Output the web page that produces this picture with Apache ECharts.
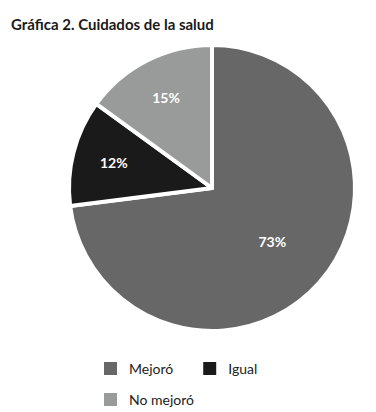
<!DOCTYPE html>
<html>
<head>
<meta charset="utf-8">
<script src="https://cdn.jsdelivr.net/npm/echarts@6/dist/echarts.min.js"></script>
<style>
  html, body { margin: 0; padding: 0; background: #ffffff; }
  #chart { width: 376px; height: 412px; }
</style>
</head>
<body>
<div id="chart"></div>
<script>
const categories = ["Mejoró", "Igual", "No mejoró"];
const values = [73, 12, 15];
const sliceColors = ["#666766", "#1b1a1a", "#999a9a"];
// how far out each label sits, as a share of the radius
const labelDepth = [0.54, 0.68, 0.68];

const FONT = "Lato, 'Open Sans', sans-serif";
const CX = 212;
const CY = 188;
const R = 143;

const chart = echarts.init(document.getElementById("chart"), null, {
  renderer: "svg",
});

const legendText = {
  fontFamily: FONT,
  fontSize: 14,
  color: "#222222",
  padding: [0, 0, 0, 6],
};

const option = {
  animation: false,
  title: {
    text: "Gráfica 2. Cuidados de la salud",
    left: 6,
    top: 11,
    textStyle: {
      fontFamily: FONT,
      fontSize: 15,
      fontWeight: "bold",
      color: "#1a1a1a",
    },
  },
  color: sliceColors,
  legend: [
    {
      data: categories.slice(0, 2),
      left: 97,
      top: 355,
      itemWidth: 15,
      itemHeight: 15,
      itemGap: 28,
      icon: "rect",
      selectedMode: false,
      textStyle: legendText,
    },
    {
      data: categories.slice(2),
      left: 97,
      top: 386,
      itemWidth: 15,
      itemHeight: 15,
      icon: "rect",
      selectedMode: false,
      textStyle: legendText,
    },
  ],
  series: [
    {
      type: "pie",
      center: [CX, CY],
      radius: R,
      startAngle: 90,
      clockwise: true,
      silent: true,
      itemStyle: {
        borderColor: "#ffffff",
        borderWidth: 4,
      },
      label: {
        show: true,
        position: "inside",
        formatter: "{d}%",
        fontFamily: FONT,
        fontSize: 14,
        fontWeight: "bold",
        color: "#ffffff",
      },
      labelLine: { show: false },
      labelLayout: (params) => {
        const k = labelDepth[params.dataIndex] / 0.5;
        const lx = params.labelRect.x + params.labelRect.width / 2;
        const ly = params.labelRect.y + params.labelRect.height / 2;
        return {
          dx: (lx - CX) * (k - 1),
          dy: (ly - CY) * (k - 1),
        };
      },
      data: categories.map((name, i) => ({ name: name, value: values[i] })),
    },
  ],
};

chart.setOption(option);
</script>
</body>
</html>
